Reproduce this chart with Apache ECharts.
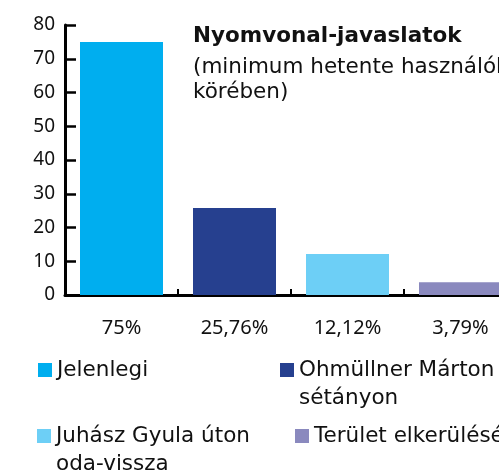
<!DOCTYPE html>
<html>
<head>
<meta charset="utf-8">
<script src="https://cdn.jsdelivr.net/npm/echarts@6/dist/echarts.min.js"></script>
<style>
  html, body { margin: 0; padding: 0; overflow: hidden; background: #fff; }
  #chart { width: 620px; height: 475px; }
</style>
</head>
<body>
<div id="chart"></div>
<script>
// adatok
const categories = ['75%', '25,76%', '12,12%', '3,79%']
const seriesNames = ['Jelenlegi', 'Ohmüllner Márton sétányon', 'Juhász Gyula úton oda-vissza', 'Terület elkerülésével']
const values = [75, 25.76, 12.12, 3.79]
const colors = ['#00aeef', '#26408f', '#6dcff6', '#8a89be']

const yTicks = { min: 0, max: 80, interval: 10 }

const font = 'DejaVu Sans'
const numFont = 'Noto Sans'

// legend szöveg sortörései (üres első sor, hogy az ikon az első sorhoz igazodjon)
const legendLabels = {
  'Jelenlegi': 'Jelenlegi',
  'Ohmüllner Márton sétányon': ' \nOhmüllner Márton\nsétányon',
  'Juhász Gyula úton oda-vissza': ' \nJuhász Gyula úton\noda-vissza',
  'Terület elkerülésével': 'Terület elkerülésével'
}
const legendPos = [
  { left: 38, top: 356 },
  { left: 280, top: 328 },
  { left: 37, top: 394 },
  { left: 295, top: 422 }
]

const chart = echarts.init(document.getElementById('chart'))

const series = seriesNames.map((name, i) => ({
  name: name,
  type: 'bar',
  stack: 'all',
  barWidth: 83,
  itemStyle: { color: colors[i] },
  data: values.map((v, j) => (j === i ? v : '-'))
}))

const legends = seriesNames.map((name, i) => ({
  data: [name],
  left: legendPos[i].left,
  top: legendPos[i].top,
  padding: 0,
  icon: 'rect',
  itemWidth: 14,
  itemHeight: 14,
  itemGap: 0,
  selectedMode: false,
  formatter: n => legendLabels[n],
  textStyle: { fontFamily: font, fontSize: 21.5, color: '#111', lineHeight: 28 }
}))

chart.setOption({
  animation: false,
  title: {
    text: 'Nyomvonal-javaslatok',
    subtext: '(minimum hetente használók\nkörében)',
    left: 193,
    top: 25,
    padding: 0,
    itemGap: 8,
    textStyle: { fontFamily: font, fontSize: 21.5, fontWeight: 'bold', color: '#111' },
    subtextStyle: { fontFamily: font, fontSize: 21.5, color: '#111', lineHeight: 25 }
  },
  legend: legends,
  grid: { left: 65, top: 25, width: 452, height: 270, containLabel: false },
  xAxis: {
    type: 'category',
    data: categories,
    axisLine: { lineStyle: { color: '#000', width: 3 } },
    axisTick: { show: true, inside: true, length: 6, lineStyle: { color: '#000', width: 2 } },
    axisLabel: { margin: 23, fontFamily: numFont, fontSize: 20, color: '#111' }
  },
  yAxis: {
    type: 'value',
    min: yTicks.min,
    max: yTicks.max,
    interval: yTicks.interval,
    splitLine: { show: false },
    axisLine: { show: true, lineStyle: { color: '#000', width: 3 } },
    axisTick: { show: true, inside: true, length: 11, lineStyle: { color: '#000', width: 2.5 } },
    axisLabel: { margin: 10, fontFamily: numFont, fontSize: 19, color: '#111' }
  },
  series: series
})
</script>
</body>
</html>
